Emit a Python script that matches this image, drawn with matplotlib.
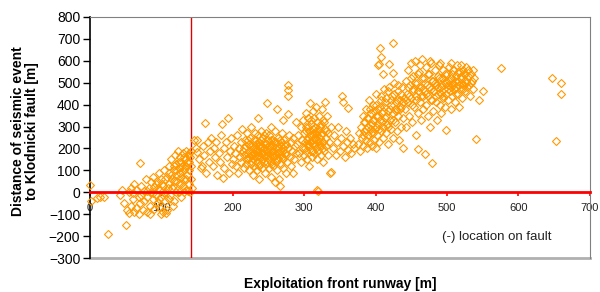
import numpy as np
import matplotlib.pyplot as plt

plt.rcParams['font.family'] = ['Liberation Sans', 'DejaVu Sans']

# seismic events, read off the picture cluster by cluster
# (exploitation front runway [m], distance to fault [m])
x_start = [0, 2, 10, 14, 20, 25]
y_start = [35, -40, -25, -20, -20, -190]

x_b = [42, 45, 48, 50, 52, 55, 55, 58, 58, 60, 62, 62, 65, 65, 68, 70, 70, 72, 74, 75,
       76, 78, 80, 80, 82, 84, 85, 86, 88, 88, 90, 90, 92, 94, 95, 96, 98, 100, 100, 102,
       102, 104, 105, 106, 108, 108, 110, 110, 112, 113, 114, 115, 116, 117, 118, 119, 120, 120, 122, 123,
       124, 125, 126, 127, 128, 128, 130, 130, 131, 132, 133, 134, 135, 135, 136, 137, 138, 138, 139, 140,
       140, 141, 142, 142, 143, 88, 95, 103, 110, 118, 124, 132, 137, 60, 72, 80, 96, 100, 106, 84, 68,
       92, 97, 101, 105, 109, 111, 115, 118, 121, 124, 126, 129, 131, 134, 136, 139, 133, 127, 121, 116]
y_b = [-10, 10, -50, -150, -80, -95, 0, 20, -60, -30, -90, 40, -70, 10, -20, 135, -50, 30, -80, 5,
       -40, 60, -20, -90, 20, -60, 45, 0, -30, 70, -75, 25, -10, 50, -50, 90, 10, -20, 60, -90,
       30, 100, -40, 0, 70, -80, 40, 120, -10, 80, 150, 20, -60, 100, 50, 170, 0, 130, 80, 190,
       40, 110, 160, -20, 70, 140, 180, 30, 100, 60, 150, 190, 10, 120, 80, 170, 40, 140, 100, 0,
       160, 60, 120, 190, 20, -5, 20, -5, -30, -40, 0, 0, 5, -5, -10, 5, -65, -100, -95, -100, -100,
       40, -30, 40, 60, 20, 90, 60, 120, 100, 140, 90, 120, 160, 60, 140, 180, 110, 40, 50, 30]

x_c = [145, 148, 150, 150, 152, 155, 157, 158, 160, 161, 163, 165, 166, 168, 170, 172, 174, 175,
       177, 178, 180, 182, 183, 185, 186, 187, 188, 190, 192, 193, 194, 196, 198, 199]
y_c = [240, 200, 183, 237, 150, 110, 119, 210, 170, 315, 90, 230, 140, 190, 250, 120, 200, 160,
       230, 80, 180, 140, 260, 310, 64, 200, 110, 230, 160, 338, 90, 190, 250, 130]

x_d = [200, 202, 203, 205, 206, 207, 208, 210, 211, 212, 213, 214, 215, 216, 217, 218, 219, 220, 220, 221,
       222, 222, 223, 224, 225, 225, 226, 227, 228, 228, 229, 230, 230, 231, 232, 232, 233, 234, 234, 235,
       235, 236, 237, 237, 238, 238, 239, 240, 240, 241, 241, 242, 243, 243, 244, 245, 245, 246, 246, 247,
       247, 248, 248, 249, 250, 250, 251, 251, 252, 253, 253, 254, 254, 255, 256, 256, 257, 257, 258, 259,
       259, 260, 260, 261, 262, 262, 263, 264, 264, 265, 266, 266, 267, 268, 268, 269, 270, 270, 271, 272,
       273, 274, 275, 276, 277, 277, 277, 277, 278, 279, 280, 281, 282, 283, 284, 285, 286, 287, 288, 289,
       235, 262, 270,
       216, 218, 221, 223, 224, 226, 227, 229, 231, 232, 233, 236, 237, 239, 240, 242, 243, 244, 246, 248,
       249, 251, 252, 253, 255, 257, 258, 260, 261, 263, 265, 266, 268, 269, 271, 273, 275, 244, 236, 255]
y_d = [150, 210, 180, 120, 260, 90, 200, 160, 230, 140, 290, 190, 110, 170, 240, 210, 130, 180, 270, 150,
       100, 220, 190, 250, 130, 170, 300, 210, 150, 80, 240, 180, 120, 270, 200, 160, 220, 140, 100, 190,
       260, 170, 230, 60, 130, 200, 280, 160, 210, 110, 250, 180, 140, 230, 200, 90, 160, 270, 190, 130,
       220, 406, 170, 240, 150, 200, 110, 260, 180, 70, 220, 140, 300, 190, 160, 240, 120, 210, 170, 46,
       280, 200, 140, 230, 100, 180, 250, 150, 210, 60, 27, 190, 230, 130, 170, 270, 200, 110, 150, 240,
       180, 90, 220, 140, 490, 465, 440, 356, 200, 260, 160, 230, 120, 190, 87, 250, 150, 210, 320, 180,
       340, 380, 330,
       200, 150, 240, 160, 210, 180, 140, 200, 170, 240, 190, 210, 160, 180, 240, 150, 200, 170, 220, 140,
       190, 210, 160, 240, 170, 190, 230, 170, 150, 200, 180, 240, 210, 160, 190, 210, 170, 260, 120, 130]

x_e = [290, 292, 293, 295, 296, 297, 298, 299, 300, 300, 301, 302, 303, 303, 304, 305, 305, 306, 307, 307,
       308, 308, 309, 310, 310, 311, 312, 312, 313, 314, 314, 315, 316, 316, 317, 318, 318, 318, 319, 320,
       320, 320, 321, 322, 323, 323, 324, 325, 325, 326, 327, 327, 328, 329, 329, 330, 331, 332, 333, 334,
       335, 336, 337, 338, 340, 342, 344, 346, 348, 350, 352, 353, 354, 355, 357, 358, 360, 361, 362, 364,
       366, 368, 370,
       301, 302, 304, 306, 306, 308, 309, 311, 312, 313, 315, 315, 317, 319, 321, 322, 324, 326, 328, 330,
       318, 310, 322, 314]
y_e = [220, 260, 180, 300, 140, 240, 200, 330, 170, 270, 230, 360, 190, 300, 150, 250, 210, 340, 280, 120,
       406, 230, 190, 310, 260, 160, 370, 220, 290, 180, 340, 250, 200, 390, 270, 9, 150, 320, 230, 5,
       290, 190, 350, 250, 170, 310, 210, 270, 380, 230, 140, 330, 190, 411, 290, 250, 210, 350, 170, 270,
       230, 87, 95, 300, 200, 260, 170, 230, 300, 190, 250, 438, 410, 210, 160, 280, 230, 383, 195, 250,
       180, 220, 200,
       200, 280, 240, 220, 300, 260, 330, 240, 190, 260, 300, 220, 240, 280, 210, 300, 260, 200, 320, 280,
       260, 230, 230, 270]

x_f = [375, 377, 378, 380, 381, 382, 383, 384, 385, 386, 387, 388, 389, 390, 390, 391, 392, 393, 394, 395,
       395, 396, 397, 398, 398, 399, 400, 400, 401, 402, 403, 403, 404, 405, 405, 406, 406, 407, 408, 408,
       409, 410, 410, 411, 412, 412, 413, 414, 415, 416, 417, 418, 419, 419, 420, 421, 422, 423, 424, 424,
       424, 425, 426, 427, 428, 429, 430, 431, 432, 433, 434, 435, 436, 437, 438, 439, 440,
       382, 384, 386, 388, 390, 392, 394, 396, 398, 400, 401, 403, 405, 406, 407, 409, 411, 413, 415, 417,
       418, 420, 422, 424, 426, 428, 430, 432, 434, 436, 438]
y_f = [220, 270, 190, 300, 250, 350, 210, 280, 320, 240, 380, 200, 300, 260, 340, 420, 230, 290, 360, 210,
       310, 270, 400, 240, 330, 290, 450, 200, 350, 260, 580, 310, 380, 585, 230, 658, 330, 280, 616, 420,
       360, 539, 250, 300, 470, 390, 340, 270, 430, 310, 370, 220, 584, 480, 330, 400, 290, 440, 680, 543,
       360, 250, 500, 320, 410, 380, 280, 460, 350, 240, 420, 300, 390, 480, 340, 200, 430,
       260, 320, 290, 340, 300, 380, 270, 330, 370, 300, 400, 350, 290, 390, 440, 320, 370, 410, 350, 300,
       460, 380, 420, 330, 450, 370, 420, 490, 380, 450, 410]

x_g = [441, 442, 443, 444, 445, 446, 447, 448, 449, 450, 451, 452, 453, 454, 455, 456, 457, 458, 459, 460,
       460, 461, 462, 463, 464, 465, 466, 467, 468, 469, 469, 470, 471, 472, 473, 474, 475, 476, 477, 478,
       479, 479, 480, 481, 482, 483, 484, 485, 486, 487, 488, 489, 490, 491, 492, 493, 494, 495, 496, 497,
       498, 499, 499, 500, 501, 502, 503, 504, 505, 506, 507, 508, 509, 510, 511, 512, 513, 514, 515, 516,
       517, 518, 519, 520, 521, 522, 523, 524, 525, 526, 527, 528, 530, 532, 534, 536, 538, 541, 545, 550,
       576, 647, 660, 660, 653,
       443, 445, 447, 449, 451, 453, 455, 457, 459, 461, 463, 465, 467, 469, 471, 473, 475, 477, 479, 481,
       483, 485, 487, 489, 491, 493, 495, 497, 499, 501, 503, 505, 507, 509, 511, 513, 515, 517, 519, 521,
       523, 525, 527, 529, 531, 533, 535, 537, 462, 476, 490, 505, 520]
y_g = [380, 510, 300, 450, 560, 410, 350, 490, 590, 430, 320, 470, 530, 390, 600, 440, 260, 500, 360, 196,
       460, 550, 410, 330, 480, 610, 440, 380, 520, 173, 460, 570, 400, 490, 350, 440, 540, 300, 470, 590,
       132, 420, 510, 370, 460, 560, 410, 490, 330, 530, 450, 580, 400, 480, 360, 520, 440, 560, 470, 390,
       510, 283, 450, 540, 420, 490, 570, 460, 380, 520, 440, 500, 560, 470, 410, 530, 480, 580, 450, 510,
       390, 550, 470, 520, 430, 560, 490, 540, 460, 510, 570, 480, 530, 440, 500, 470, 520, 242, 420, 460,
       566, 520, 498, 447, 233,
       420, 480, 440, 520, 400, 460, 500, 420, 540, 480, 440, 520, 470, 500, 450, 540, 480, 420, 510, 460,
       500, 440, 480, 520, 450, 490, 430, 540, 500, 470, 510, 480, 540, 490, 510, 450, 550, 490, 530, 500,
       470, 540, 500, 560, 490, 540, 510, 560, 580, 600, 590, 590, 580]

runway = np.array(x_start + x_b + x_c + x_d + x_e + x_f + x_g)
distance = np.array(y_start + y_b + y_c + y_d + y_e + y_f + y_g)

fault_x = 141   # vertical marker line
x_ticks = [0, 100, 200, 300, 400, 500, 600, 700]
y_ticks = [-300, -200, -100, 0, 100, 200, 300, 400, 500, 600, 700, 800]

fig = plt.figure(figsize=(6.0, 2.92), dpi=100)
ax = fig.add_axes([0.15, 0.116, 0.833, 0.826])

ax.plot(runway, distance, 'D', markersize=3.8, markerfacecolor='none',
        markeredgecolor='#FF9900', markeredgewidth=0.8, clip_on=False, zorder=3)

ax.axvline(fault_x, color='#E00000', lw=1.0, zorder=2)

ax.set_xlim(0, 700)
ax.set_ylim(-300, 800)

# x axis sits on y = 0, drawn in red
ax.spines['bottom'].set_position(('data', 0))
ax.spines['bottom'].set_color('red')
ax.spines['bottom'].set_linewidth(2.0)
ax.spines['bottom'].set_zorder(4)
ax.spines['left'].set_color('black')
ax.spines['left'].set_linewidth(1.2)
ax.spines['top'].set_color('#808080')
ax.spines['right'].set_color('#808080')
ax.axhline(-300, color='#B0B0B0', lw=2.0, clip_on=False, zorder=1)

ax.set_xticks(x_ticks)
ax.set_yticks(y_ticks)
ax.tick_params(axis='x', direction='out', color='red', width=1.2, length=3,
               labelsize=8, pad=5, labelcolor='#222222')
ax.tick_params(axis='y', direction='out', color='black', width=1, length=5,
               labelsize=10, pad=2)

ax.text(0.705, 0.075, '(-) location on fault', transform=ax.transAxes,
        fontsize=9.5, color='#222222')

fig.text(0.567, 0.028, 'Exploitation front runway [m]', fontsize=10, fontweight='bold',
         ha='center', va='center')
fig.text(0.042, 0.55, 'Distance of seismic event\nto Klodnicki fault [m]', fontsize=10,
         fontweight='bold', ha='center', va='center', rotation=90, linespacing=1.05)

fig.savefig('out.png', dpi=100)
